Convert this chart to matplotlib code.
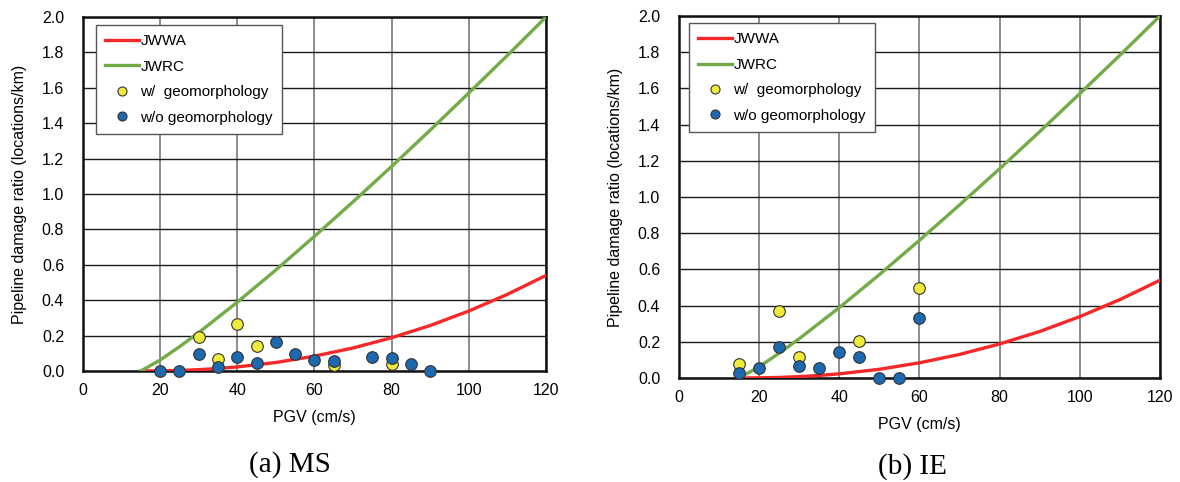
import numpy as np
import matplotlib
matplotlib.use("Agg")
import matplotlib.pyplot as plt
from matplotlib.lines import Line2D

plt.rcParams['font.family'] = ['Liberation Sans', 'DejaVu Sans']

# damage function curves (PGV cm/s -> locations/km)
curve_pgv = [15, 20, 25, 30, 35, 40, 50, 60, 70, 80, 90, 100, 110, 120]
jwwa_ratio = [0.0, 0.001, 0.003, 0.0075, 0.014, 0.023, 0.048, 0.084, 0.130,
              0.188, 0.257, 0.339, 0.433, 0.54]
jwrc_ratio = [0.0, 0.062, 0.137, 0.217, 0.303, 0.389, 0.571, 0.761, 0.956,
              1.156, 1.361, 1.571, 1.783, 2.0]

# (a) MS
ms_with_pgv = [30, 35, 40, 45, 65, 80]
ms_with_ratio = [0.19, 0.068, 0.267, 0.14, 0.032, 0.04]
ms_without_pgv = [20, 25, 30, 35, 40, 45, 50, 55, 60, 65, 75, 80, 85, 90]
ms_without_ratio = [0.0, 0.0, 0.096, 0.021, 0.081, 0.045, 0.162, 0.096, 0.062,
                    0.058, 0.077, 0.072, 0.041, 0.0]

# (b) IE
ie_with_pgv = [15, 25, 30, 45, 60]
ie_with_ratio = [0.08, 0.37, 0.118, 0.206, 0.497]
ie_without_pgv = [15, 20, 25, 30, 35, 40, 45, 50, 55, 60]
ie_without_ratio = [0.029, 0.057, 0.173, 0.068, 0.054, 0.146, 0.118, 0.0, 0.0, 0.333]

RED = '#f5282a'
GREEN = '#72ab48'
YELLOW = '#f2ea3a'
BLUE = '#1c69b0'

fig = plt.figure(figsize=(11.8, 4.82), dpi=100)
ax1 = fig.add_axes([0.0703, 0.2303, 0.3924, 0.7344])
ax2 = fig.add_axes([0.5754, 0.2158, 0.4076, 0.751])


def draw_panel(ax, with_pgv, with_ratio, without_pgv, without_ratio, leg_anchor):
    ax.set_xlim(0, 120)
    ax.set_ylim(0, 2.0)
    ax.set_xticks(np.arange(0, 121, 20))
    ax.set_yticks(np.arange(0, 2.01, 0.2))
    ax.set_yticklabels(['%.1f' % v for v in np.arange(0, 2.01, 0.2)])
    ax.xaxis.grid(True, color='#6e6e6e', lw=1.1)
    ax.yaxis.grid(True, color='#1a1a1a', lw=1.0)
    ax.set_axisbelow(True)
    for sp in ax.spines.values():
        sp.set_linewidth(1.8)
        sp.set_color('#111111')
    ax.tick_params(axis='x', length=0, labelsize=11.5, pad=9)
    ax.tick_params(axis='y', length=0, labelsize=11.5, pad=13.5)

    ax.plot(curve_pgv, jwwa_ratio, color=RED, lw=2.4, zorder=3, clip_on=True)
    ax.plot(curve_pgv, jwrc_ratio, color=GREEN, lw=2.4, zorder=3, clip_on=True)
    ax.scatter(with_pgv, with_ratio, s=70, c=YELLOW, edgecolors='#333333',
               linewidths=0.8, zorder=4, clip_on=False)
    ax.scatter(without_pgv, without_ratio, s=70, c=BLUE, edgecolors='#333333',
               linewidths=0.8, zorder=5, clip_on=False)

    ax.set_xlabel('PGV (cm/s)', fontsize=11.5, labelpad=8)
    ax.set_ylabel('Pipeline damage ratio (locations/km)', fontsize=11.5, labelpad=11)

    handles = [
        Line2D([], [], color=RED, lw=2.4),
        Line2D([], [], color=GREEN, lw=2.4),
        Line2D([], [], ls='none', marker='o', ms=6.5, mfc=YELLOW, mec='#333333', mew=0.8),
        Line2D([], [], ls='none', marker='o', ms=6.5, mfc=BLUE, mec='#333333', mew=0.8),
    ]
    labels = ['JWWA', 'JWRC', 'w/  geomorphology', 'w/o geomorphology']
    leg = ax.legend(handles, labels, loc='upper left', bbox_to_anchor=leg_anchor,
                    fontsize=11, frameon=True, fancybox=False, framealpha=1,
                    edgecolor='#555555', handlelength=2.2, handletextpad=0.1,
                    labelspacing=0.75, borderpad=0.6, borderaxespad=0)
    leg.get_frame().set_linewidth(1.0)


draw_panel(ax1, ms_with_pgv, ms_with_ratio, ms_without_pgv, ms_without_ratio,
           (0.028, 0.977))
draw_panel(ax2, ie_with_pgv, ie_with_ratio, ie_without_pgv, ie_without_ratio,
           (0.021, 0.98))

serif = ['Liberation Serif', 'DejaVu Serif']
fig.text(290 / 1180, 1 - 465 / 482, '(a) MS', ha='center', va='center',
         fontsize=21, family=serif)
fig.text(912 / 1180, 1 - 467 / 482, '(b) IE', ha='center', va='center',
         fontsize=21, family=serif)

fig.savefig('out.png', dpi=100)
